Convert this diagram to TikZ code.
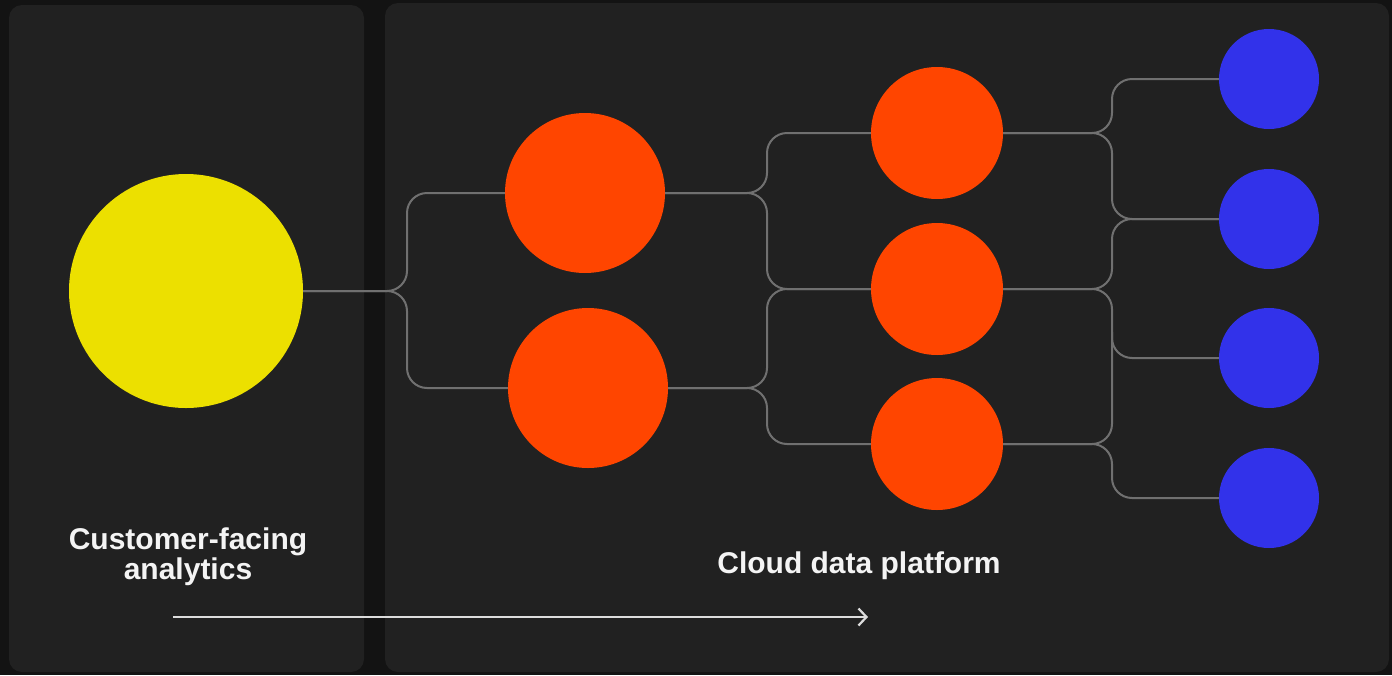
\documentclass[tikz,border=0pt]{standalone}
\usepackage{fontspec}
\setmainfont{Liberation Sans}
\usetikzlibrary{arrows.meta}
\definecolor{bgc}{HTML}{131313}
\definecolor{panelc}{HTML}{212121}
\definecolor{yel}{HTML}{ECE000}
\definecolor{ora}{HTML}{FF4500}
\definecolor{blu}{HTML}{3232EA}
\definecolor{linec}{HTML}{707070}
\definecolor{txtc}{HTML}{F4F4F4}
\definecolor{arrc}{HTML}{DCDCDC}
\tikzset{
  panel/.style={fill=panelc, draw=none, rounded corners=13pt},
  dot/.style={circle, inner sep=0pt, draw=none},
  ydot/.style={dot, fill=yel, minimum size=234pt},
  obig/.style={dot, fill=ora, minimum size=160pt},
  osmall/.style={dot, fill=ora, minimum size=132pt},
  bdot/.style={dot, fill=blu, minimum size=100pt},
  link/.style={draw=linec, line width=2pt, rounded corners=20pt},
  label/.style={text=txtc, font=\bfseries\fontsize{30}{30}\selectfont, align=center, inner sep=0pt},
  flow/.style={draw=arrc, line width=2.6pt, -{Straight Barb[length=8pt,width=17pt,line width=2.2pt]}}
}
\begin{document}
\begin{tikzpicture}[x=1pt,y=-1pt]
\fill[bgc] (0,0) rectangle (1392,675);
\useasboundingbox (0,0) rectangle (1392,675);
\path[panel] (9,5) rectangle (364,672);
\path[panel] (385,3) rectangle (1389,672);

\node[ydot] (Y) at (186,291) {};
\node[obig] (O1) at (585,193) {};
\node[obig] (O2) at (588,388) {};
\node[osmall] (O3) at (937,133) {};
\node[osmall] (O4) at (937,289) {};
\node[osmall] (O5) at (937,444) {};
\node[bdot] (B1) at (1269,79) {};
\node[bdot] (B2) at (1269,219) {};
\node[bdot] (B3) at (1269,358) {};
\node[bdot] (B4) at (1269,498) {};

\coordinate (v1) at (407,0);
\coordinate (v2) at (767,0);
\coordinate (v3) at (1112,0);

% group 1
\draw[link] (Y.east) -- (Y.east -| v1) -- (O1.west -| v1) -- (O1.west);
\draw[link] (Y.east) -- (Y.east -| v1) -- (O2.west -| v1) -- (O2.west);
% group 2
\draw[link] (O1.east) -- (O1.east -| v2) -- (O3.west -| v2) -- (O3.west);
\draw[link] (O1.east) -- (O1.east -| v2) -- (O4.west -| v2) -- (O4.west);
\draw[link] (O2.east) -- (O2.east -| v2) -- (O4.west -| v2) -- (O4.west);
\draw[link] (O2.east) -- (O2.east -| v2) -- (O5.west -| v2) -- (O5.west);
% group 3
\draw[link] (O3.east) -- (O3.east -| v3) -- (B1.west -| v3) -- (B1.west);
\draw[link] (O3.east) -- (O3.east -| v3) -- (B2.west -| v3) -- (B2.west);
\draw[link] (O4.east) -- (O4.east -| v3) -- (B2.west -| v3) -- (B2.west);
\draw[link] (O4.east) -- (O4.east -| v3) -- (B3.west -| v3) -- (B3.west);
\coordinate (j5) at (1112,332);
\draw[link] (O5.east) -- (O5.east -| v3) -- (j5);
\draw[link] (O5.east) -- (O5.east -| v3) -- (B4.west -| v3) -- (B4.west);

\node[label] (cfa) at (188,557) {Customer-facing\\analytics};
\node[label, anchor=base] (cdp) at (859,573) {Cloud data platform};

\coordinate (a0) at (173,617);
\coordinate (a1) at (868,617);
\draw[flow] (a0) -- (a1);
\end{tikzpicture}
\end{document}
